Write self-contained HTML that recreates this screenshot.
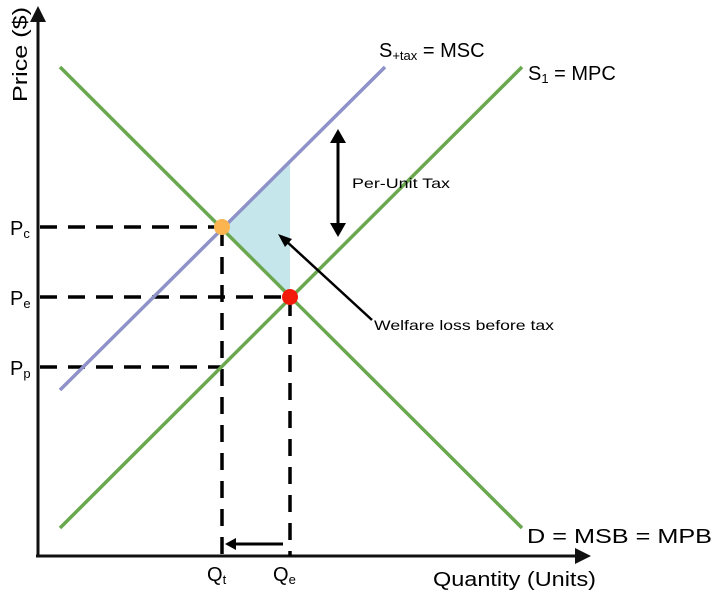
<!DOCTYPE html>
<html><head><style>
html,body{margin:0;padding:0;background:#fff;}
svg{display:block;font-family:"Liberation Sans",sans-serif;}
</style></head><body>
<svg width="717" height="595" viewBox="0 0 717 595" xmlns="http://www.w3.org/2000/svg">
<polygon points="222,227 290,160 290,297" fill="#c5e6ea"/>
<line x1="38" y1="556" x2="38" y2="20" stroke="#111" stroke-width="3"/>
<polygon points="30,22 38,6 46,22" fill="#111"/>
<line x1="36" y1="556" x2="578" y2="556" stroke="#111" stroke-width="3"/>
<polygon points="575,548 591,556 575,564" fill="#111"/>
<g stroke="#000" stroke-width="3.5" stroke-dasharray="17,11" fill="none">
<line x1="40" y1="227" x2="222" y2="227"/>
<line x1="40" y1="297" x2="290" y2="297"/>
<line x1="40" y1="367" x2="222" y2="367"/>
<line x1="222" y1="229" x2="222" y2="556"/>
<line x1="290" y1="299" x2="290" y2="556"/>
</g>
<line x1="60" y1="67" x2="522" y2="528" stroke="#6aa84f" stroke-width="3.5"/>
<line x1="60" y1="528" x2="522" y2="67" stroke="#6aa84f" stroke-width="3.5"/>
<line x1="60" y1="390" x2="385" y2="67" stroke="#8e92c8" stroke-width="3.5"/>
<circle cx="222" cy="227" r="8" fill="#fbb450"/>
<circle cx="290" cy="297" r="8" fill="#f21a0a"/>
<line x1="338" y1="140" x2="338" y2="226" stroke="#000" stroke-width="3"/>
<polygon points="330,143 338,129 346,143" fill="#000"/>
<polygon points="330,223 338,237 346,223" fill="#000"/>
<text x="352" y="188" font-size="14" textLength="98" lengthAdjust="spacingAndGlyphs">Per-Unit Tax</text>
<line x1="372" y1="320" x2="285" y2="240" stroke="#000" stroke-width="2.5"/>
<polygon points="278,234 292,239 285,247" fill="#000"/>
<text x="374" y="330" font-size="14" textLength="180" lengthAdjust="spacingAndGlyphs">Welfare loss before tax</text>
<line x1="283" y1="544" x2="234" y2="544" stroke="#000" stroke-width="3"/>
<polygon points="236,538 225,544 236,550" fill="#000"/>
<text x="27" y="102" font-size="20" transform="rotate(-90 27 102)" textLength="95" lengthAdjust="spacingAndGlyphs">Price ($)</text>
<text x="10" y="235" font-size="20">P<tspan font-size="13" dy="3">c</tspan></text>
<text x="10" y="305" font-size="20">P<tspan font-size="13" dy="3">e</tspan></text>
<text x="10" y="375" font-size="20">P<tspan font-size="13" dy="3">p</tspan></text>
<text x="207" y="581" font-size="20">Q<tspan font-size="13" dy="3">t</tspan></text>
<text x="273" y="581" font-size="20">Q<tspan font-size="13" dy="3">e</tspan></text>
<text x="433" y="586" font-size="20" textLength="163" lengthAdjust="spacingAndGlyphs">Quantity (Units)</text>
<text x="527" y="543" font-size="20" textLength="185" lengthAdjust="spacingAndGlyphs">D = MSB = MPB</text>
<text x="528" y="80" font-size="20">S<tspan font-size="13" dy="3">1</tspan><tspan dy="-3"> = MPC</tspan></text>
<text x="379" y="57" font-size="20">S<tspan font-size="13" dy="3">+tax</tspan><tspan dy="-3"> = MSC</tspan></text>
</svg>
</body></html>
